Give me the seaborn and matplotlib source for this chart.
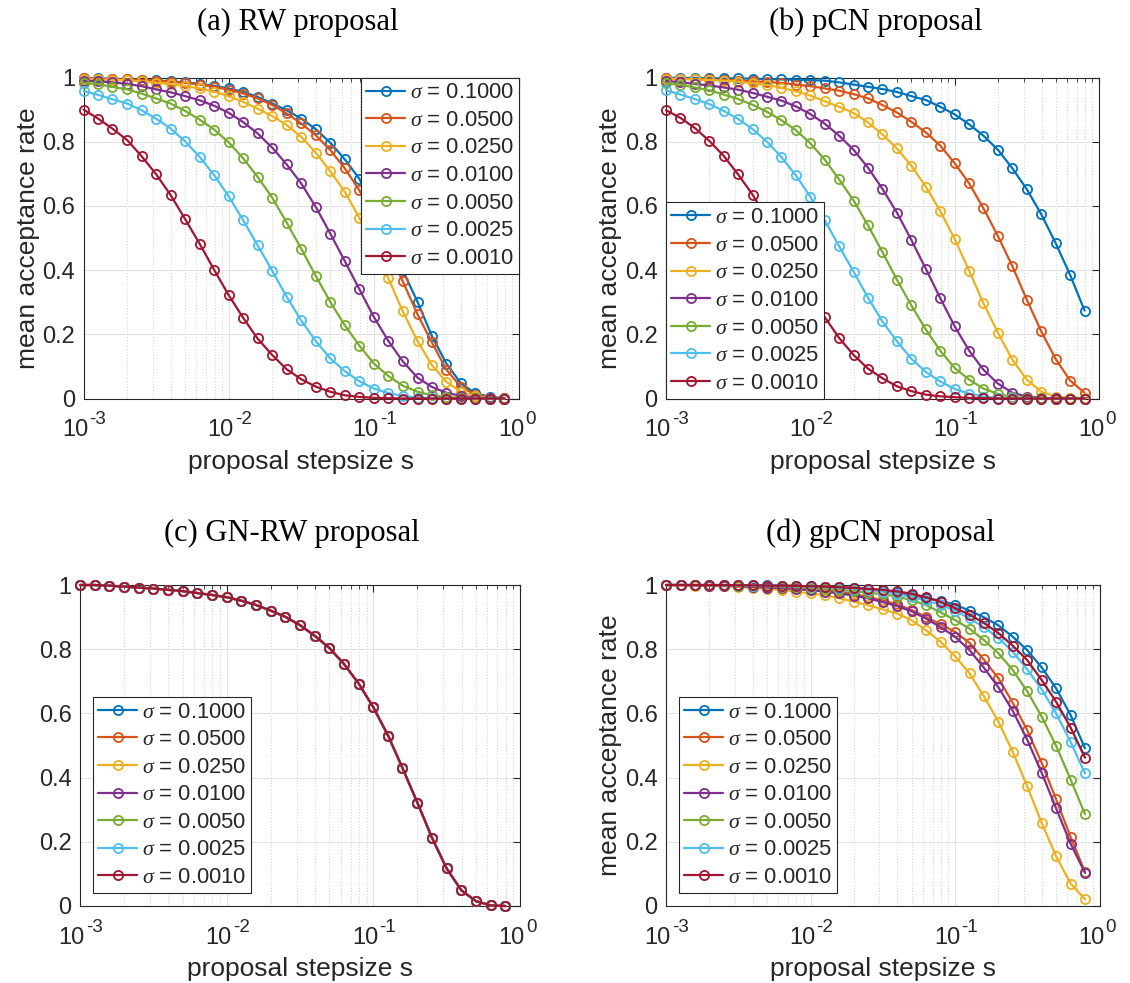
import matplotlib
matplotlib.use("Agg")
import matplotlib.pyplot as plt
import matplotlib.transforms as mtransforms
from matplotlib.ticker import LogLocator, NullFormatter
import seaborn as sns

# proposal step sizes (10 per decade from 1e-3 up to ~0.8)
stepsize = [0.001, 0.00126, 0.00158, 0.002, 0.00251, 0.00316, 0.00398, 0.00501,
            0.00631, 0.00794, 0.01, 0.0126, 0.0158, 0.02, 0.0251, 0.0316, 0.0398,
            0.0501, 0.0631, 0.0794, 0.1, 0.126, 0.158, 0.2, 0.251, 0.316, 0.398,
            0.501, 0.631, 0.794]

sigma_labels = ["0.1000", "0.0500", "0.0250", "0.0100", "0.0050", "0.0025", "0.0010"]
colors = ["#0072BD", "#D95319", "#EDB120", "#7E2F8E", "#77AC30", "#4DBEEE", "#A2142F"]

panel_titles = ["(a) RW proposal", "(b) pCN proposal", "(c) GN-RW proposal", "(d) gpCN proposal"]
xlabel_text = "proposal stepsize s"
ylabel_text = "mean acceptance rate"
xtick_values = [1e-3, 1e-2, 1e-1, 1.0]
xtick_base = "10"
xtick_exponents = ["-3", "-2", "-1", "0"]
ytick_labels = ["0", "0.2", "0.4", "0.6", "0.8", "1"]

# ---- mean acceptance rates: random-walk proposal ----
rw_s1000 = [.998, .997, .996, .995, .993, .991, .988, .985, .980, .974, .966, .955, .940, .919, .898,
            .872, .839, .797, .745, .685, .600, .510, .400, .301, .195, .109, .047, .016, .005, .001]
rw_s0500 = [.997, .996, .995, .994, .992, .990, .987, .983, .978, .971, .962, .950, .935, .914, .888,
            .857, .820, .774, .717, .649, .560, .460, .366, .262, .175, .090, .036, .012, .003, .001]
rw_s0250 = [.995, .994, .993, .991, .988, .984, .979, .973, .966, .956, .942, .924, .903, .880, .852,
            .815, .766, .708, .644, .563, .470, .374, .272, .179, .104, .052, .021, .007, .002, .000]
rw_s0100 = [.990, .988, .985, .980, .973, .963, .954, .942, .929, .912, .890, .861, .826, .781, .729,
            .670, .597, .514, .428, .341, .254, .179, .116, .065, .036, .018, .008, .003, .001, .000]
rw_s0050 = [.983, .979, .971, .963, .950, .935, .919, .896, .869, .838, .798, .748, .691, .625, .548,
            .467, .382, .301, .228, .165, .109, .070, .040, .021, .010, .005, .002, .001, .000, .000]
rw_s0025 = [.958, .946, .932, .919, .898, .872, .841, .801, .753, .696, .630, .555, .478, .397, .317,
            .243, .179, .125, .085, .054, .031, .017, .008, .003, .001, .000, .000, .000, .000, .000]
rw_s0010 = [.900, .872, .841, .805, .755, .699, .634, .559, .482, .401, .322, .251, .187, .135, .091,
            .060, .037, .021, .010, .005, .002, .001, .000, .000, .000, .000, .000, .000, .000, .000]

# ---- preconditioned Crank-Nicolson proposal ----
pcn_s1000 = [.999, .999, .998, .998, .997, .997, .996, .995, .994, .993, .992, .990, .985, .978, .971,
             .964, .955, .942, .930, .909, .885, .854, .819, .774, .717, .652, .574, .484, .385, .274]
pcn_s0500 = [.997, .996, .995, .994, .992, .990, .988, .986, .983, .978, .973, .966, .959, .948, .935,
             .914, .891, .862, .829, .788, .733, .670, .593, .505, .412, .308, .209, .123, .056, .018]
pcn_s0250 = [.996, .995, .994, .992, .990, .987, .982, .977, .968, .957, .944, .926, .909, .889, .860,
             .823, .779, .725, .660, .584, .497, .398, .297, .204, .121, .059, .021, .006, .002, .001]
pcn_s0100 = [.990, .985, .980, .975, .969, .962, .952, .940, .928, .910, .886, .856, .819, .774, .719,
             .653, .579, .494, .404, .313, .225, .149, .090, .046, .018, .006, .002, .001, .000, .000]
pcn_s0050 = [.982, .977, .969, .960, .947, .933, .915, .893, .867, .836, .795, .744, .683, .616, .539,
             .456, .370, .290, .215, .149, .095, .059, .031, .014, .005, .002, .001, .000, .000, .000]
pcn_s0025 = [.960, .947, .933, .917, .896, .871, .839, .800, .752, .695, .629, .555, .475, .394, .314,
             .240, .178, .124, .083, .053, .030, .015, .006, .002, .001, .000, .000, .000, .000, .000]
pcn_s0010 = [.898, .874, .843, .802, .756, .698, .635, .560, .482, .401, .324, .253, .189, .135, .093,
             .063, .038, .023, .012, .007, .004, .002, .001, .000, .000, .000, .000, .000, .000, .000]

# ---- Gauss-Newton random walk: identical for every sigma ----
gnrw_rate = [1.0, 1.0, .998, .995, .992, .989, .985, .981, .975, .969, .962, .951, .938, .920, .901,
             .875, .842, .804, .754, .693, .619, .531, .430, .321, .213, .117, .049, .015, .002, .000]

# ---- generalized pCN proposal ----
gpcn_s1000 = [1.0, 1.0, 1.0, 1.0, 1.0, .999, .999, .999, .998, .997, .996, .995, .993, .991, .988,
              .982, .975, .968, .960, .951, .939, .920, .900, .874, .839, .797, .743, .678, .595, .491]
gpcn_s0500 = [1.0, 1.0, .999, .998, .998, .997, .996, .995, .993, .991, .988, .984, .979, .972, .963,
              .952, .940, .922, .900, .878, .854, .820, .768, .709, .633, .548, .446, .332, .215, .106]
gpcn_s0250 = [1.0, .999, .998, .997, .996, .994, .991, .988, .984, .979, .974, .968, .959, .948, .937,
              .924, .911, .890, .859, .823, .778, .725, .654, .574, .480, .373, .259, .155, .070, .021]
gpcn_s0100 = [1.0, 1.0, .999, .998, .997, .996, .994, .992, .990, .987, .984, .979, .974, .967, .958,
              .947, .934, .918, .895, .869, .839, .797, .743, .681, .608, .518, .415, .304, .194, .103]
gpcn_s0050 = [1.0, 1.0, 1.0, .999, .999, .998, .997, .996, .995, .993, .991, .988, .985, .981, .976,
              .971, .964, .953, .937, .915, .891, .864, .829, .787, .735, .669, .590, .499, .394, .286]
gpcn_s0025 = [1.0, 1.0, 1.0, 1.0, .999, .999, .998, .998, .997, .996, .995, .993, .991, .988, .984,
              .979, .972, .963, .952, .938, .920, .896, .869, .835, .792, .737, .675, .600, .511, .413]
gpcn_s0010 = [1.0, 1.0, 1.0, 1.0, 1.0, .999, .999, .998, .998, .997, .996, .995, .993, .991, .988,
              .985, .980, .973, .962, .947, .928, .908, .882, .850, .811, .766, .704, .636, .556, .462]

rw_series = [rw_s1000, rw_s0500, rw_s0250, rw_s0100, rw_s0050, rw_s0025, rw_s0010]
pcn_series = [pcn_s1000, pcn_s0500, pcn_s0250, pcn_s0100, pcn_s0050, pcn_s0025, pcn_s0010]
gnrw_series = [gnrw_rate] * 7
gpcn_series = [gpcn_s1000, gpcn_s0500, gpcn_s0250, gpcn_s0100, gpcn_s0050, gpcn_s0025, gpcn_s0010]

sns.set_style("white")
plt.rcParams["font.family"] = ["Liberation Sans", "DejaVu Sans"]
plt.rcParams["mathtext.fontset"] = "custom"
plt.rcParams["mathtext.rm"] = "Liberation Sans"
plt.rcParams["mathtext.it"] = "Liberation Serif:italic"
plt.rcParams["mathtext.bf"] = "Liberation Sans:bold"
plt.rcParams["axes.linewidth"] = 0.8
plt.rcParams["axes.edgecolor"] = "#262626"

W, H = 1130, 983
fig = plt.figure(figsize=(W / 100, H / 100), dpi=100)
INK = "#262626"


def box(left, right, top, bottom):
    return [left / W, 1 - bottom / H, (right - left) / W, (bottom - top) / H]


axes_boxes = [box(83.5, 519, 77.5, 398.5), box(666, 1099, 77.5, 398.5),
              box(80, 520, 585, 906), box(666, 1099.5, 585, 906)]
all_series = [rw_series, pcn_series, gnrw_series, gpcn_series]
legend_locs = ["upper right", "lower left", "lower left", "lower left"]
legend_pads = [0.0, 0.0, 0.6, 0.6]
show_ylabel = [True, True, False, True]
title_pos = [(298, 22), (876, 22), (292, 533), (880, 533)]

# tick label "10" sits just left of the tick, exponent raised to its right
base_shift = mtransforms.ScaledTranslation(5 / 100, 0, fig.dpi_scale_trans)

for i in range(4):
    ax = fig.add_axes(axes_boxes[i])
    for vals, col in zip(all_series[i], colors):
        sns.lineplot(x=stepsize, y=vals, ax=ax, color=col, linewidth=1.6,
                     marker="o", markersize=6.6, markerfacecolor="none",
                     markeredgecolor=col, markeredgewidth=1.3,
                     errorbar=None, legend=False, clip_on=False, zorder=3)
    ax.set_xscale("log")
    ax.set_xlim(1e-3, 1)
    ax.set_ylim(0, 1)
    ax.set_xticks(xtick_values)
    ax.set_xticklabels([xtick_base] * len(xtick_values))
    ax.xaxis.set_minor_locator(LogLocator(base=10, subs=range(2, 10), numticks=20))
    ax.xaxis.set_minor_formatter(NullFormatter())
    ax.set_yticks([0, 0.2, 0.4, 0.6, 0.8, 1.0])
    ax.set_yticklabels(ytick_labels)
    ax.tick_params(which="both", direction="in", top=True, right=True,
                   color=INK, labelcolor=INK, labelsize=17)
    ax.tick_params(which="major", length=5, width=0.8)
    ax.tick_params(which="minor", length=2.8, width=0.6)
    ax.tick_params(axis="x", which="major", pad=15)
    ax.tick_params(axis="y", which="major", pad=6)
    for lab in ax.get_xticklabels():
        lab.set_horizontalalignment("right")
        lab.set_transform(lab.get_transform() + base_shift)
    for xv, ex in zip(xtick_values, xtick_exponents):
        ax.annotate(ex, xy=(xv, 0), xycoords=ax.get_xaxis_transform(),
                    xytext=(6, -26), textcoords="offset pixels",
                    ha="left", va="baseline", fontsize=13.5, color=INK,
                    annotation_clip=False)

    ax.grid(which="major", color="#e2e2e2", linewidth=0.8, linestyle="-")
    ax.grid(which="minor", axis="x", color="#cfcfcf", linewidth=0.7, linestyle=(0, (1, 2)))
    ax.set_axisbelow(True)
    for sp in ax.spines.values():
        sp.set_visible(True)
        sp.set_color(INK)
        sp.set_linewidth(0.8)

    ax.set_xlabel(xlabel_text, fontsize=19, color=INK, labelpad=6)
    if show_ylabel[i]:
        ax.set_ylabel(ylabel_text, fontsize=19, color=INK, labelpad=2)
    else:
        ax.set_ylabel("")

    handles = ax.lines[-7:]
    labels = [r"$\sigma$ = " + s for s in sigma_labels]
    leg = ax.legend(handles, labels, loc=legend_locs[i], borderaxespad=legend_pads[i],
                    fontsize=15.8, frameon=True, fancybox=False, framealpha=1,
                    edgecolor=INK, handlelength=1.8, handletextpad=0.2,
                    labelspacing=0.30, borderpad=0.22, numpoints=1)
    leg.get_frame().set_linewidth(0.8)
    leg.set_zorder(10)

    tx, ty = title_pos[i]
    fig.text(tx / W, 1 - ty / H, panel_titles[i], ha="center", va="center",
             fontsize=22, family=["Liberation Serif", "DejaVu Serif"], color="black")

fig.savefig("out.png", dpi=100)
